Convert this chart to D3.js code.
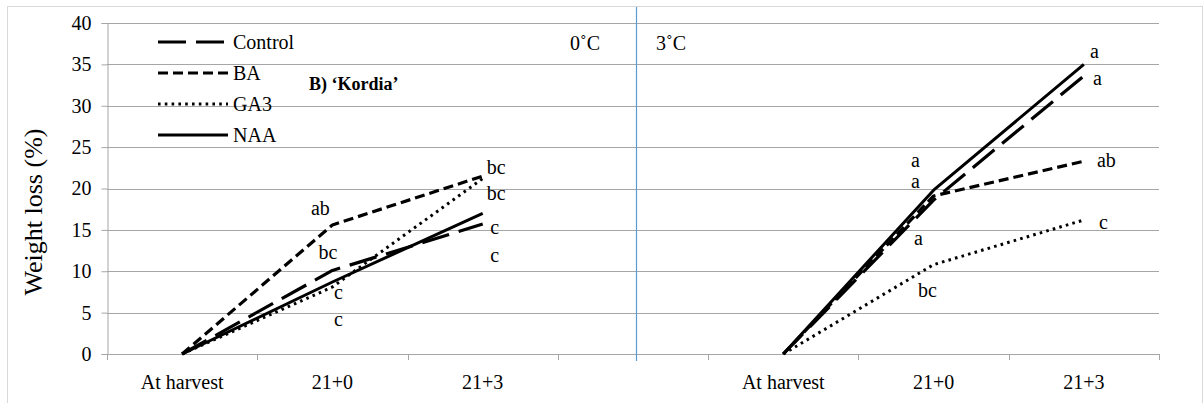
<!DOCTYPE html>
<html>
<head>
<meta charset="utf-8">
<script src="https://cdn.jsdelivr.net/npm/d3@7"></script>
<style>
  html, body { margin: 0; padding: 0; background: #fff; }
  svg text { font-family: "Liberation Serif", "Times New Roman", Times, "DejaVu Serif", serif; }
</style>
</head>
<body>
<svg id="chart" width="1204" height="403"></svg>
<script>
// ---- data ----
const categories = ["At harvest", "21+0", "21+3", "", "At harvest", "21+0", "21+3"];
const yTicks = [0, 5, 10, 15, 20, 25, 30, 35, 40];
const seriesNames = ["Control", "BA", "GA3", "NAA"];
// 0°C panel (categories 0..2)
const control0 = [0, 10.1, 15.7];
const ba0      = [0, 15.6, 21.5];
const ga3_0    = [0, 8.1, 21.2];
const naa0     = [0, 8.7, 17.0];
// 3°C panel (categories 4..6)
const control3 = [0, 18.6, 33.6];
const ba3      = [0, 19.1, 23.3];
const ga3_3    = [0, 10.8, 16.2];
const naa3     = [0, 19.8, 35.0];
// significance letters: [category position, value, text]
const letters0 = [[0.92, 17.7, "ab"], [0.97, 12.3, "bc"], [1.04, 7.5, "c"], [1.04, 4.2, "c"],
                  [2.09, 22.6, "bc"], [2.09, 19.4, "bc"], [2.08, 15.3, "c"], [2.08, 12.0, "c"]];
const letters3 = [[4.88, 23.4, "a"], [4.88, 20.9, "a"], [4.90, 14.0, "a"], [4.96, 7.7, "bc"],
                  [6.07, 36.6, "a"], [6.09, 33.3, "a"], [6.15, 23.4, "ab"], [6.13, 15.9, "c"]];
const panelLabels = ["0˚C", "3˚C"];
const titleText = "B) ‘Kordia’";
const yTitle = "Weight loss (%)";

// ---- layout ----
const FONT = '"Liberation Serif", "Times New Roman", Times, "DejaVu Serif", serif';
const svg = d3.select("#chart");
const mLeft = 107, mRight = 1159, mTop = 23, mBottom = 354;

const x = d3.scaleBand().domain(d3.range(categories.length)).range([mLeft, mRight]).padding(0);
const xc = i => mLeft + (i + 0.5) * x.bandwidth();
const y = d3.scaleLinear().domain([0, 40]).range([mBottom, mTop]);

// outer border
svg.append("rect").attr("x", 7.5).attr("y", 6.5).attr("width", 1195).attr("height", 410)
  .attr("fill", "none").attr("stroke", "#d9d9d9").attr("stroke-width", 1);

// gridlines
svg.append("g").selectAll("line").data(yTicks).join("line")
  .attr("x1", mLeft).attr("x2", mRight)
  .attr("y1", d => Math.round(y(d)) + 0.5).attr("y2", d => Math.round(y(d)) + 0.5)
  .attr("stroke", "#a6a6a6").attr("stroke-width", 1);

// y axis
const yAxis = svg.append("g").attr("transform", `translate(${mLeft + 0.5},0)`)
  .call(d3.axisLeft(y).tickValues(yTicks).tickSize(6).tickPadding(10));
yAxis.attr("font-family", FONT);
yAxis.select(".domain").attr("stroke", "#a6a6a6");
yAxis.selectAll(".tick line").attr("stroke", "#a6a6a6");
yAxis.selectAll(".tick text").attr("font-size", 20).attr("fill", "#000");

// x axis
const xAxis = svg.append("g").attr("transform", `translate(0,${Math.round(mBottom) + 0.5})`)
  .call(d3.axisBottom(x).tickFormat(i => categories[i]).tickSize(0).tickPadding(20));
xAxis.attr("font-family", FONT);
xAxis.select(".domain").remove();
xAxis.selectAll(".tick text").attr("font-size", 20).attr("fill", "#000");
// band boundary ticks
const bounds = d3.range(categories.length + 1).map(i => mLeft + i * x.bandwidth());
svg.append("g").selectAll("line").data(bounds).join("line")
  .attr("x1", d => Math.round(d) + 0.5).attr("x2", d => Math.round(d) + 0.5)
  .attr("y1", mBottom).attr("y2", mBottom + 6)
  .attr("stroke", "#a6a6a6");

// blue separator
svg.append("line").attr("x1", 636.5).attr("x2", 636.5).attr("y1", 7).attr("y2", 361)
  .attr("stroke", "#5b9bd5").attr("stroke-width", 1.2);

// y title
svg.append("text").attr("transform", `translate(42,212) rotate(-90)`)
  .attr("text-anchor", "middle").attr("font-size", 26).text(yTitle);

// styles
const styles = {
  Control: { dash: "28,10", width: 3.2 },
  BA: { dash: "10,5", width: 3.2 },
  GA3: { dash: "2.6,4.2", width: 3 },
  NAA: { dash: null, width: 3 }
};

const line = d3.line().x(d => xc(d[0])).y(d => y(d[1]));
const panels = [
  { start: 0, data: { Control: control0, BA: ba0, GA3: ga3_0, NAA: naa0 } },
  { start: 4, data: { Control: control3, BA: ba3, GA3: ga3_3, NAA: naa3 } }
];
const gLines = svg.append("g");
panels.forEach(p => {
  seriesNames.forEach(name => {
    const pts = p.data[name].map((v, k) => [p.start + k, v]);
    gLines.append("path").attr("d", line(pts))
      .attr("fill", "none").attr("stroke", "#000")
      .attr("stroke-width", styles[name].width)
      .attr("stroke-dasharray", styles[name].dash)
      .attr("stroke-linejoin", "round");
  });
});

// letters
svg.append("g").selectAll("text").data(letters0.concat(letters3)).join("text")
  .attr("x", d => xc(d[0])).attr("y", d => y(d[1]))
  .attr("text-anchor", "middle").attr("dominant-baseline", "central")
  .attr("font-size", 20).text(d => d[2]);

// legend
const leg = svg.append("g");
seriesNames.forEach((name, k) => {
  const ly = 42 + k * 31;
  leg.append("line").attr("x1", 158).attr("x2", 228).attr("y1", ly).attr("y2", ly)
    .attr("stroke", "#000").attr("stroke-width", styles[name].width)
    .attr("stroke-dasharray", styles[name].dash);
  leg.append("text").attr("x", 233).attr("y", ly).attr("dominant-baseline", "central")
    .attr("font-size", 20).text(name);
});

// title
svg.append("text").attr("x", 309).attr("y", 90).attr("font-size", 18)
  .attr("font-weight", "bold").text(titleText);

// panel labels
svg.append("text").attr("x", 570).attr("y", 50).attr("font-size", 20).text(panelLabels[0]);
svg.append("text").attr("x", 656).attr("y", 50).attr("font-size", 20).text(panelLabels[1]);
</script>
</body>
</html>
